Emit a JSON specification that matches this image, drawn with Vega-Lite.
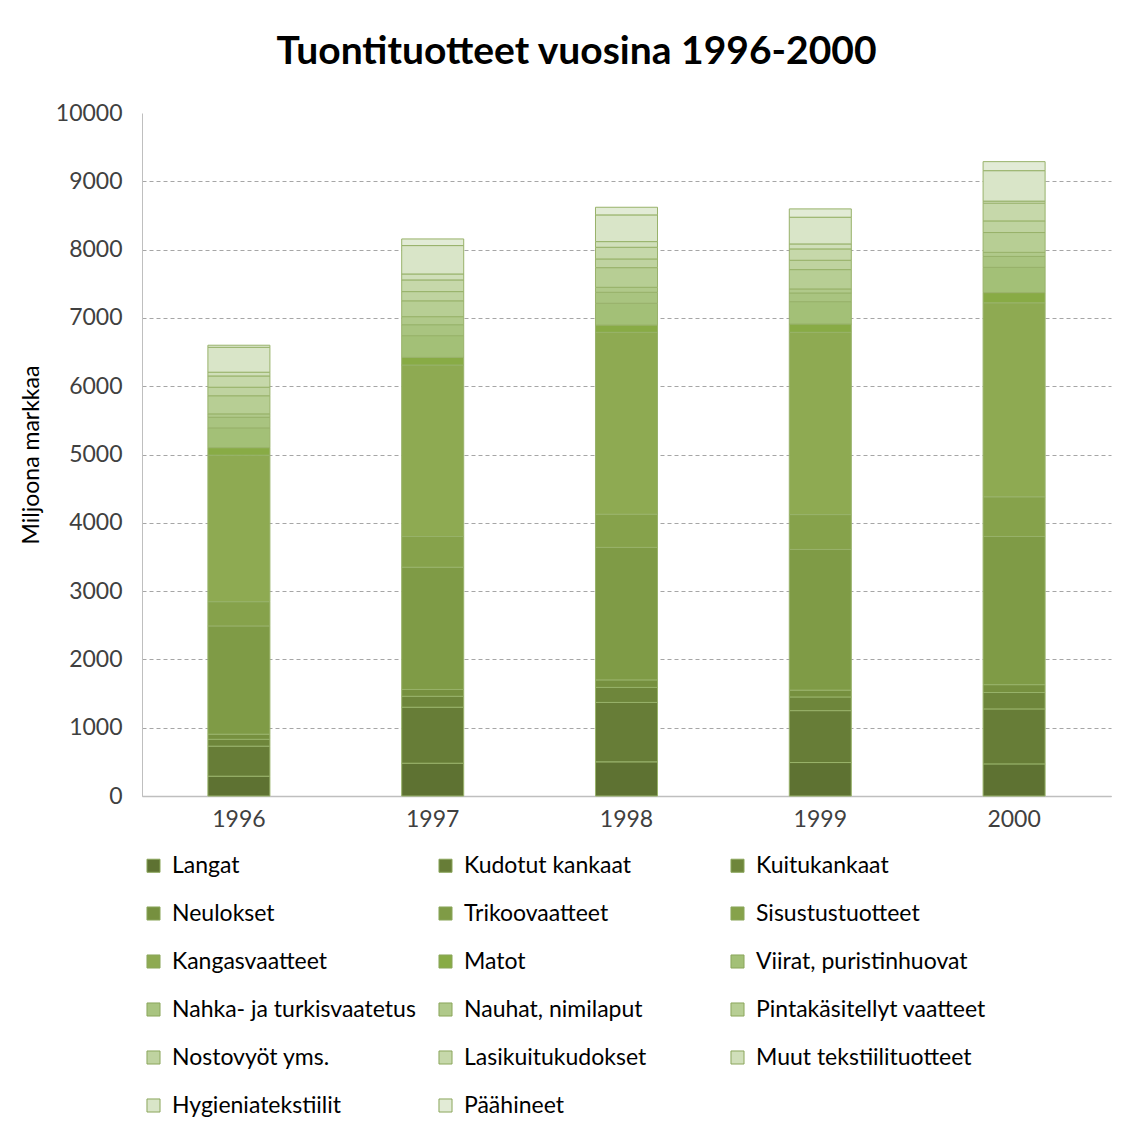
{
  "$schema": "https://vega.github.io/schema/vega-lite/v6.json",
  "width": 969,
  "height": 683,
  "padding": {"left": 20, "top": 33, "right": 30, "bottom": 10},
  "background": "white",
  "title": {"text": "Tuontituotteet vuosina 1996-2000", "fontSize": 39, "fontWeight": "bold", "font": "Lato", "color": "#000000", "offset": 30, "anchor": "middle", "dx": -50},
  "data": {"values": [
    {"year": "1996", "product": "Langat", "i": 1, "value": 290},
    {"year": "1996", "product": "Kudotut kankaat", "i": 2, "value": 440},
    {"year": "1996", "product": "Kuitukankaat", "i": 3, "value": 100},
    {"year": "1996", "product": "Neulokset", "i": 4, "value": 75},
    {"year": "1996", "product": "Trikoovaatteet", "i": 5, "value": 1585},
    {"year": "1996", "product": "Sisustustuotteet", "i": 6, "value": 355},
    {"year": "1996", "product": "Kangasvaatteet", "i": 7, "value": 2145},
    {"year": "1996", "product": "Matot", "i": 8, "value": 110},
    {"year": "1996", "product": "Viirat, puristinhuovat", "i": 9, "value": 290},
    {"year": "1996", "product": "Nahka- ja turkisvaatetus", "i": 10, "value": 155},
    {"year": "1996", "product": "Nauhat, nimilaput", "i": 11, "value": 50},
    {"year": "1996", "product": "Pintakäsitellyt vaatteet", "i": 12, "value": 265},
    {"year": "1996", "product": "Nostovyöt yms.", "i": 13, "value": 125},
    {"year": "1996", "product": "Lasikuitukudokset", "i": 14, "value": 165},
    {"year": "1996", "product": "Muut tekstiilituotteet", "i": 15, "value": 55},
    {"year": "1996", "product": "Hygieniatekstiilit", "i": 16, "value": 365},
    {"year": "1996", "product": "Päähineet", "i": 17, "value": 30},
    {"year": "1997", "product": "Langat", "i": 1, "value": 480},
    {"year": "1997", "product": "Kudotut kankaat", "i": 2, "value": 820},
    {"year": "1997", "product": "Kuitukankaat", "i": 3, "value": 160},
    {"year": "1997", "product": "Neulokset", "i": 4, "value": 100},
    {"year": "1997", "product": "Trikoovaatteet", "i": 5, "value": 1790},
    {"year": "1997", "product": "Sisustustuotteet", "i": 6, "value": 450},
    {"year": "1997", "product": "Kangasvaatteet", "i": 7, "value": 2510},
    {"year": "1997", "product": "Matot", "i": 8, "value": 112},
    {"year": "1997", "product": "Viirat, puristinhuovat", "i": 9, "value": 318},
    {"year": "1997", "product": "Nahka- ja turkisvaatetus", "i": 10, "value": 160},
    {"year": "1997", "product": "Nauhat, nimilaput", "i": 11, "value": 118},
    {"year": "1997", "product": "Pintakäsitellyt vaatteet", "i": 12, "value": 232},
    {"year": "1997", "product": "Nostovyöt yms.", "i": 13, "value": 135},
    {"year": "1997", "product": "Lasikuitukudokset", "i": 14, "value": 171},
    {"year": "1997", "product": "Muut tekstiilituotteet", "i": 15, "value": 87},
    {"year": "1997", "product": "Hygieniatekstiilit", "i": 16, "value": 416},
    {"year": "1997", "product": "Päähineet", "i": 17, "value": 97},
    {"year": "1998", "product": "Langat", "i": 1, "value": 500},
    {"year": "1998", "product": "Kudotut kankaat", "i": 2, "value": 870},
    {"year": "1998", "product": "Kuitukankaat", "i": 3, "value": 220},
    {"year": "1998", "product": "Neulokset", "i": 4, "value": 110},
    {"year": "1998", "product": "Trikoovaatteet", "i": 5, "value": 1940},
    {"year": "1998", "product": "Sisustustuotteet", "i": 6, "value": 486},
    {"year": "1998", "product": "Kangasvaatteet", "i": 7, "value": 2663},
    {"year": "1998", "product": "Matot", "i": 8, "value": 107},
    {"year": "1998", "product": "Viirat, puristinhuovat", "i": 9, "value": 318},
    {"year": "1998", "product": "Nahka- ja turkisvaatetus", "i": 10, "value": 161},
    {"year": "1998", "product": "Nauhat, nimilaput", "i": 11, "value": 73},
    {"year": "1998", "product": "Pintakäsitellyt vaatteet", "i": 12, "value": 288},
    {"year": "1998", "product": "Nostovyöt yms.", "i": 13, "value": 127},
    {"year": "1998", "product": "Lasikuitukudokset", "i": 14, "value": 171},
    {"year": "1998", "product": "Muut tekstiilituotteet", "i": 15, "value": 83},
    {"year": "1998", "product": "Hygieniatekstiilit", "i": 16, "value": 391},
    {"year": "1998", "product": "Päähineet", "i": 17, "value": 112},
    {"year": "1999", "product": "Langat", "i": 1, "value": 490},
    {"year": "1999", "product": "Kudotut kankaat", "i": 2, "value": 760},
    {"year": "1999", "product": "Kuitukankaat", "i": 3, "value": 200},
    {"year": "1999", "product": "Neulokset", "i": 4, "value": 100},
    {"year": "1999", "product": "Trikoovaatteet", "i": 5, "value": 2060},
    {"year": "1999", "product": "Sisustustuotteet", "i": 6, "value": 510},
    {"year": "1999", "product": "Kangasvaatteet", "i": 7, "value": 2669},
    {"year": "1999", "product": "Matot", "i": 8, "value": 122},
    {"year": "1999", "product": "Viirat, puristinhuovat", "i": 9, "value": 327},
    {"year": "1999", "product": "Nahka- ja turkisvaatetus", "i": 10, "value": 127},
    {"year": "1999", "product": "Nauhat, nimilaput", "i": 11, "value": 59},
    {"year": "1999", "product": "Pintakäsitellyt vaatteet", "i": 12, "value": 283},
    {"year": "1999", "product": "Nostovyöt yms.", "i": 13, "value": 137},
    {"year": "1999", "product": "Lasikuitukudokset", "i": 14, "value": 166},
    {"year": "1999", "product": "Muut tekstiilituotteet", "i": 15, "value": 73},
    {"year": "1999", "product": "Hygieniatekstiilit", "i": 16, "value": 391},
    {"year": "1999", "product": "Päähineet", "i": 17, "value": 122},
    {"year": "2000", "product": "Langat", "i": 1, "value": 470},
    {"year": "2000", "product": "Kudotut kankaat", "i": 2, "value": 805},
    {"year": "2000", "product": "Kuitukankaat", "i": 3, "value": 240},
    {"year": "2000", "product": "Neulokset", "i": 4, "value": 115},
    {"year": "2000", "product": "Trikoovaatteet", "i": 5, "value": 2170},
    {"year": "2000", "product": "Sisustustuotteet", "i": 6, "value": 580},
    {"year": "2000", "product": "Kangasvaatteet", "i": 7, "value": 2840},
    {"year": "2000", "product": "Matot", "i": 8, "value": 150},
    {"year": "2000", "product": "Viirat, puristinhuovat", "i": 9, "value": 370},
    {"year": "2000", "product": "Nahka- ja turkisvaatetus", "i": 10, "value": 160},
    {"year": "2000", "product": "Nauhat, nimilaput", "i": 11, "value": 60},
    {"year": "2000", "product": "Pintakäsitellyt vaatteet", "i": 12, "value": 290},
    {"year": "2000", "product": "Nostovyöt yms.", "i": 13, "value": 170},
    {"year": "2000", "product": "Lasikuitukudokset", "i": 14, "value": 260},
    {"year": "2000", "product": "Muut tekstiilituotteet", "i": 15, "value": 30},
    {"year": "2000", "product": "Hygieniatekstiilit", "i": 16, "value": 446},
    {"year": "2000", "product": "Päähineet", "i": 17, "value": 132}
  ]},
  "mark": {"type": "bar", "stroke": "#98b26a", "strokeWidth": 1},
  "encoding": {
    "x": {
      "field": "year", "type": "ordinal", "title": null,
      "scale": {"paddingInner": 0.68, "paddingOuter": 0.34},
      "axis": {"labelAngle": 0, "labelFontSize": 23, "labelFont": "Lato", "labelColor": "#404040", "ticks": false, "labelPadding": 12, "domainColor": "#bfbfbf", "domainWidth": 1.5}
    },
    "y": {
      "field": "value", "type": "quantitative", "stack": "zero",
      "title": "Miljoona markkaa",
      "scale": {"domain": [0, 10000], "nice": false},
      "axis": {"values": [0, 1000, 2000, 3000, 4000, 5000, 6000, 7000, 8000, 9000, 10000], "format": "d", "labelFontSize": 23, "labelFont": "Lato", "labelColor": "#404040", "ticks": false, "labelPadding": 20, "titleFontSize": 23, "titleFont": "Lato", "titleFontWeight": "normal", "titleColor": "#000000", "titlePadding": 12, "domainColor": "#bfbfbf", "domainWidth": 1, "gridColor": "#a6a6a6", "gridDash": [4, 3], "gridWidth": 1, "gridOpacity": {"condition": {"test": "datum.value === 10000", "value": 0}, "value": 1}}
    },
    "color": {
      "field": "product", "type": "nominal", "title": null,
      "scale": {
        "domain": ["Langat", "Kudotut kankaat", "Kuitukankaat", "Neulokset", "Trikoovaatteet", "Sisustustuotteet", "Kangasvaatteet", "Matot", "Viirat, puristinhuovat", "Nahka- ja turkisvaatetus", "Nauhat, nimilaput", "Pintakäsitellyt vaatteet", "Nostovyöt yms.", "Lasikuitukudokset", "Muut tekstiilituotteet", "Hygieniatekstiilit", "Päähineet"],
        "range": ["#5e7232", "#677d37", "#6e863b", "#76903f", "#7f9b46", "#86a24b", "#8eaa52", "#88ab45", "#a3c077", "#a9c480", "#b0c98a", "#b7ce94", "#bfd3a0", "#c6d8aa", "#d0dfba", "#d9e5c8", "#e2ebd6"]
      },
      "legend": {"orient": "bottom", "direction": "horizontal", "columns": 3, "gridAlign": "all", "symbolType": "square", "symbolSize": 170, "symbolStrokeWidth": 1, "symbolStrokeColor": "#8ba65b", "labelFontSize": 23, "labelFont": "Lato", "labelColor": "#000000", "labelLimit": 400, "columnPadding": 18, "rowPadding": 24, "labelOffset": 7, "offset": 23, "padding": 0}
    },
    "order": {"field": "i", "type": "quantitative", "sort": "ascending"}
  },
  "config": {"view": {"stroke": null}}
}
